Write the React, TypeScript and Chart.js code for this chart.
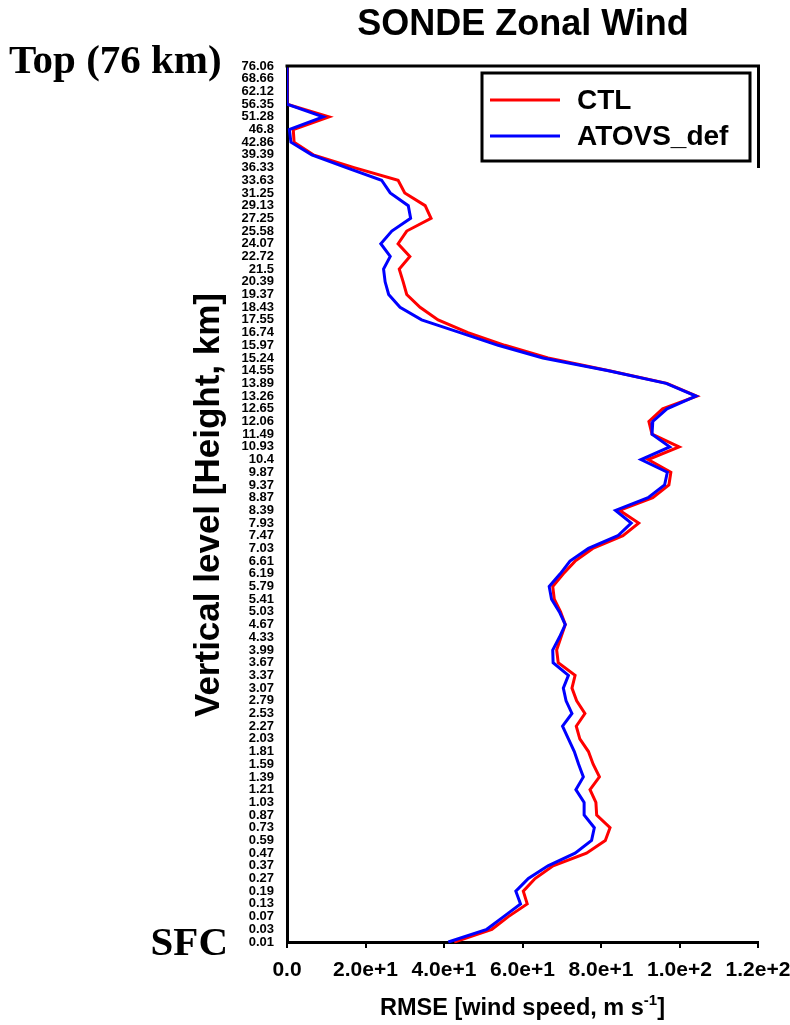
import { useEffect, useRef } from 'react';
import { Chart, registerables } from 'chart.js';

Chart.register(...registerables);

const SANS = '"Liberation Sans", Arial, sans-serif';
const SERIF = '"Liberation Serif", "Times New Roman", serif';

// Vertical levels (height, km), top of the model down to the surface
const levels = [
  '76.06', '68.66', '62.12', '56.35', '51.28', '46.8', '42.86', '39.39', '36.33', '33.63',
  '31.25', '29.13', '27.25', '25.58', '24.07', '22.72', '21.5', '20.39', '19.37', '18.43',
  '17.55', '16.74', '15.97', '15.24', '14.55', '13.89', '13.26', '12.65', '12.06', '11.49',
  '10.93', '10.4', '9.87', '9.37', '8.87', '8.39', '7.93', '7.47', '7.03', '6.61',
  '6.19', '5.79', '5.41', '5.03', '4.67', '4.33', '3.99', '3.67', '3.37', '3.07',
  '2.79', '2.53', '2.27', '2.03', '1.81', '1.59', '1.39', '1.21', '1.03', '0.87',
  '0.73', '0.59', '0.47', '0.37', '0.27', '0.19', '0.13', '0.07', '0.03', '0.01',
];

// RMSE of zonal wind against radiosondes, one value per level
const ctlRmse = [
  0, 0, 0, 0, 10.7, 1.6, 1.8, 6.7, 17.1, 28.3,
  30.0, 35.2, 36.7, 30.5, 28.3, 31.3, 28.6, 29.6, 30.5, 33.9,
  38.5, 46.1, 55.5, 66.5, 82.1, 96.8, 104.4, 95.7, 92.2, 93.0,
  99.9, 92.0, 97.8, 97.3, 93.2, 84.7, 89.6, 85.6, 77.9, 73.4,
  70.4, 67.7, 68.1, 69.7, 70.9, 69.8, 68.7, 69.1, 73.4, 72.6,
  73.8, 75.9, 73.7, 74.6, 76.8, 78.0, 79.6, 77.2, 78.7, 78.9,
  82.3, 81.1, 76.3, 67.8, 63.2, 60.2, 61.2, 56.4, 52.2, 42.6,
];

const atovsRmse = [
  0, 0, 0, 0, 9.2, 0.6, 1.0, 6.3, 15.1, 24.1,
  26.3, 30.9, 31.5, 26.7, 23.9, 26.3, 24.6, 25.0, 25.9, 28.8,
  34.3, 44.1, 53.8, 65.2, 81.9, 96.6, 104.2, 96.8, 93.2, 93.0,
  97.5, 90.2, 96.9, 96.2, 92.0, 83.7, 87.7, 84.3, 76.8, 72.1,
  69.6, 66.8, 67.4, 69.4, 70.9, 69.4, 67.7, 67.8, 71.7, 70.4,
  71.1, 72.6, 70.2, 71.7, 73.2, 74.3, 75.5, 73.6, 75.7, 75.7,
  78.3, 77.6, 73.4, 66.5, 61.5, 58.3, 59.5, 55.2, 50.9, 41.1,
];

const seriesNames = ['CTL', 'ATOVS_def'];
const seriesColors = ['#ff0000', '#0000ff'];

const chartTitle = 'SONDE Zonal Wind';
const yTitle = 'Vertical level [Height, km]';
const topLabel = 'Top (76 km)';
const bottomLabel = 'SFC';

const formatTick = (v: number) => (v === 0 ? '0.0' : Number(v).toExponential(1));

// Draws the title, axis titles, frame line and boxed legend
const decorations = {
  id: 'decorations',
  afterDraw(chart: any) {
    const { ctx, chartArea: a } = chart;
    ctx.save();
    ctx.fillStyle = '#000';
    ctx.strokeStyle = '#000';

    // top frame line
    ctx.lineWidth = 3;
    ctx.beginPath();
    ctx.moveTo(a.left - 1.5, a.top);
    ctx.lineTo(a.right + 2, a.top);
    ctx.stroke();

    // title
    ctx.font = `bold 36px ${SANS}`;
    ctx.textAlign = 'center';
    ctx.textBaseline = 'alphabetic';
    ctx.fillText(chartTitle, 523, 35);

    // top / surface markers
    ctx.font = `bold 41px ${SERIF}`;
    ctx.textAlign = 'left';
    ctx.fillText(topLabel, 9, 73);
    ctx.textAlign = 'right';
    ctx.fillText(bottomLabel, 228, 955);

    // y axis title
    ctx.save();
    ctx.translate(219, 505);
    ctx.rotate(-Math.PI / 2);
    ctx.font = `bold 35px ${SANS}`;
    ctx.textAlign = 'center';
    ctx.textBaseline = 'alphabetic';
    ctx.fillText(yTitle, 0, 0);
    ctx.restore();

    // x axis title with superscript
    const main = 'RMSE [wind speed, m s';
    const sup = '-1';
    const end = ']';
    ctx.textAlign = 'left';
    ctx.textBaseline = 'alphabetic';
    ctx.font = `bold 23.5px ${SANS}`;
    const wMain = ctx.measureText(main).width;
    const wEnd = ctx.measureText(end).width;
    ctx.font = `bold 15px ${SANS}`;
    const wSup = ctx.measureText(sup).width;
    const cx = (a.left + a.right) / 2;
    let x = cx - (wMain + wSup + wEnd) / 2;
    const base = 1015;
    ctx.font = `bold 23.5px ${SANS}`;
    ctx.fillText(main, x, base);
    x += wMain;
    ctx.font = `bold 15px ${SANS}`;
    ctx.fillText(sup, x, base - 10);
    x += wSup;
    ctx.font = `bold 23.5px ${SANS}`;
    ctx.fillText(end, x, base);

    // legend
    ctx.lineWidth = 3;
    ctx.fillStyle = '#fff';
    ctx.fillRect(482, 73, 268, 88);
    ctx.strokeRect(482, 73, 268, 88);
    ctx.beginPath();
    ctx.moveTo(a.right + 0.5, a.top);
    ctx.lineTo(a.right + 0.5, 168);
    ctx.stroke();
    ctx.font = `bold 28px ${SANS}`;
    ctx.textAlign = 'left';
    ctx.textBaseline = 'middle';
    seriesNames.forEach((name, i) => {
      const y = 100 + i * 36;
      ctx.strokeStyle = seriesColors[i];
      ctx.lineWidth = 3;
      ctx.beginPath();
      ctx.moveTo(490, y);
      ctx.lineTo(560, y);
      ctx.stroke();
      ctx.fillStyle = '#000';
      ctx.fillText(name, 577, y + 1);
    });

    ctx.restore();
  },
};

export default function App() {
  const ref = useRef<HTMLCanvasElement>(null);

  useEffect(() => {
    if (!ref.current) return;
    const chart = new Chart(ref.current, {
      type: 'line',
      data: {
        labels: levels,
        datasets: [
          {
            label: seriesNames[0],
            data: ctlRmse,
            borderColor: seriesColors[0],
            backgroundColor: seriesColors[0],
            borderWidth: 3,
            pointRadius: 0,
            tension: 0,
            order: 1,
          },
          {
            label: seriesNames[1],
            data: atovsRmse,
            borderColor: seriesColors[1],
            backgroundColor: seriesColors[1],
            borderWidth: 3,
            pointRadius: 0,
            tension: 0,
            order: 0,
          },
        ],
      },
      options: {
        indexAxis: 'y',
        responsive: false,
        animation: false,
        layout: { padding: { top: 66, right: 32, left: 0, bottom: 0 } },
        plugins: {
          legend: { display: false },
          tooltip: { enabled: false },
          title: { display: false },
        },
        scales: {
          x: {
            type: 'linear',
            position: 'bottom',
            min: 0,
            max: 120,
            ticks: {
              stepSize: 20,
              callback: (v: any) => formatTick(Number(v)),
              font: { family: SANS, size: 21, weight: 'bold' },
              color: '#000',
              padding: 10,
              maxRotation: 0,
              autoSkip: false,
            },
            grid: {
              drawOnChartArea: false,
              drawTicks: true,
              tickLength: 6,
              color: '#000',
              lineWidth: 2,
            },
            border: { color: '#000', width: 3 },
            afterFit: (s: any) => {
              s.height = 83;
              // let the last tick label run to the canvas edge
              s.paddingLeft = 0;
              s.paddingRight = 0;
            },
          },
          y: {
            type: 'category',
            position: 'left',
            offset: false,
            ticks: {
              font: { family: SANS, size: 13, weight: 'bold' },
              color: '#000',
              padding: 13,
              autoSkip: false,
            },
            grid: { drawOnChartArea: false, drawTicks: false },
            border: { color: '#000', width: 3 },
            afterFit: (s: any) => {
              s.width = 287;
              s.paddingTop = 0;
              s.paddingBottom = 0;
            },
          },
        },
      } as any,
      plugins: [decorations],
    });
    return () => chart.destroy();
  }, []);

  return (
    <div style={{ position: 'absolute', left: 0, top: 0, width: 790, height: 1025, background: '#fff' }}>
      <canvas ref={ref} width={790} height={1025} style={{ display: 'block' }} />
    </div>
  );
}
